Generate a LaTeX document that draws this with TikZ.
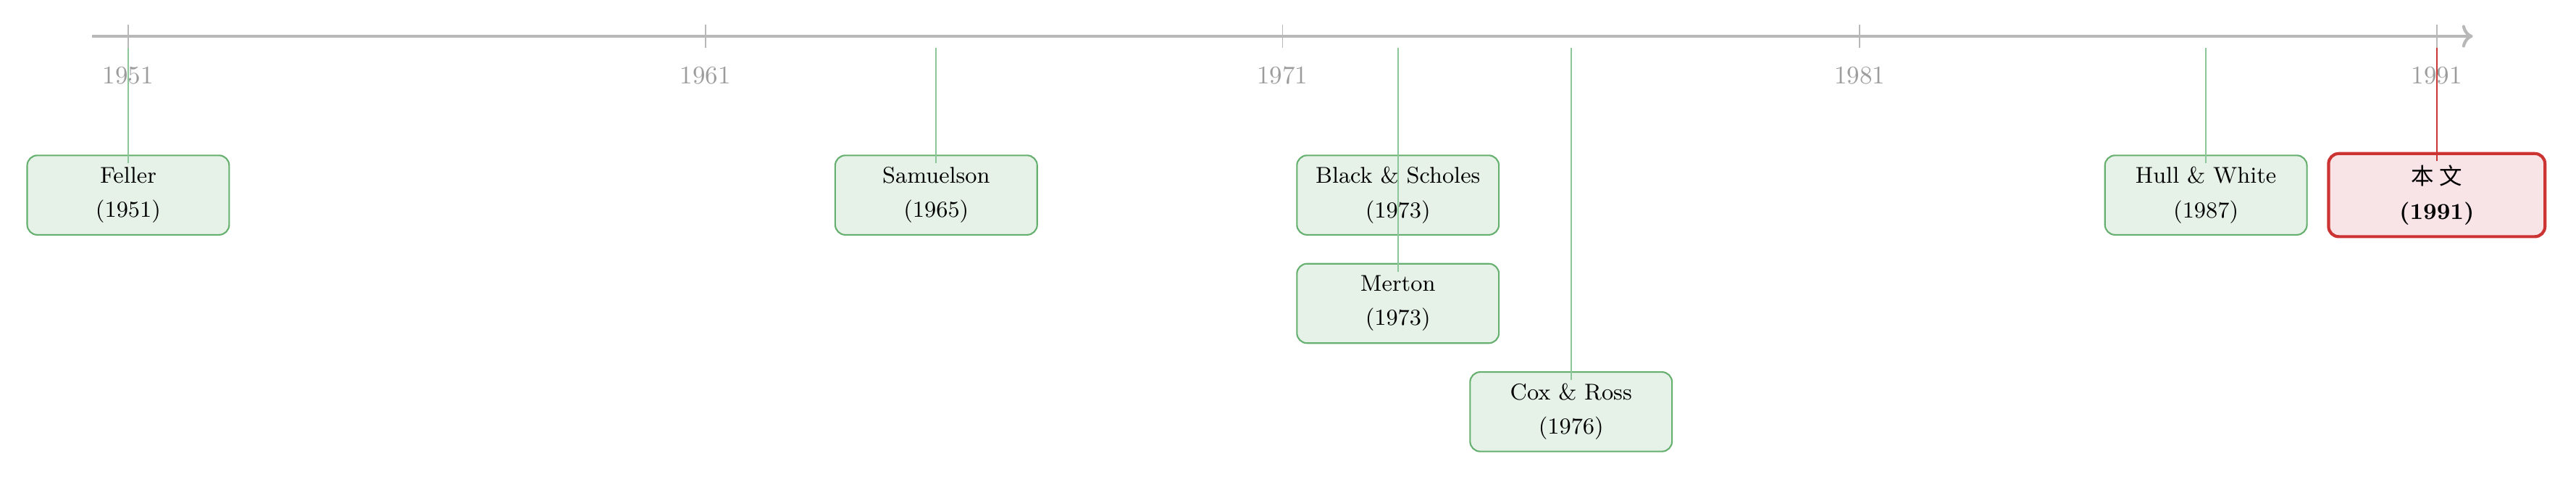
\documentclass[tikz,border=0pt]{standalone}
\usepackage{fontspec}
\newfontfamily\cjk{Noto Sans CJK SC}
\usepackage{tikz}
\usetikzlibrary{arrows.meta}
\definecolor{axisgray}{HTML}{B8B8B8}
\definecolor{labelgray}{HTML}{9C9C9C}
\definecolor{leaf}{HTML}{66B06F}
\definecolor{leafpale}{HTML}{E6F2E8}
\definecolor{stemgreen}{HTML}{8CC79A}
\definecolor{brick}{HTML}{CC3333}
\definecolor{brickpale}{HTML}{F8E4E6}
\tikzset{
  paper/.style={rectangle, rounded corners=4pt, draw=leaf, fill=leafpale, line width=0.6pt,
                align=center, inner sep=2pt, font=\small, minimum width=2.8cm, minimum height=1.1cm},
  ours/.style={paper, draw=brick, fill=brickpale, line width=1.2pt,
               minimum width=3.0cm, minimum height=1.15cm},
  stem/.style={draw=stemgreen, line width=0.5pt, shorten >=-1.2mm},
  oursstem/.style={stem, draw=brick},
  timeaxis/.style={->, draw=axisgray, line width=1.2pt},
  yearlbl/.style={font=\normalsize, text=labelgray},
}

\begin{document}
\begin{tikzpicture}[x=1cm,y=1cm]
\useasboundingbox (-1.777,0.502) rectangle (33.93,-6.145);

% the time axis, 0.8cm a year from 1951
\draw[timeaxis] (-0.5,0) -- (32.5,0);
\foreach \yr in {1951,1961,...,1991} {
  \pgfmathsetmacro{\px}{(\yr-1951)*0.8}
  \draw[draw=axisgray, line width=0.5pt] (\px,0.16) -- (\px,-0.16);
  \node[yearlbl] at (\px,-0.54) {\yr};
}
\coordinate (axisline) at (0,-0.16);

\node[paper] (feller)    at (0.0, -2.2) {Feller\\[2.5pt](1951)};
\node[paper] (samuelson) at (11.2,-2.2) {Samuelson\\[2.5pt](1965)};
\node[paper] (bs)        at (17.6,-2.2) {Black \& Scholes\\[2.5pt](1973)};
\node[paper] (merton)    at (17.6,-3.7) {Merton\\[2.5pt](1973)};
\node[paper] (coxross)   at (20.0,-5.2) {Cox \& Ross\\[2.5pt](1976)};
\node[paper] (hw)        at (28.8,-2.2) {Hull \& White\\[2.5pt](1987)};
\node[ours]  (thiswork)  at (32.0,-2.2) {{\cjk 本\hspace{0.25em}文}\\[2.5pt]\textbf{(1991)}};

\foreach \n in {feller,samuelson,bs,merton,coxross,hw}
  \draw[stem] (\n.north |- axisline) -- (\n.north);
\draw[oursstem] (thiswork.north |- axisline) -- (thiswork.north);
\end{tikzpicture}
\end{document}
